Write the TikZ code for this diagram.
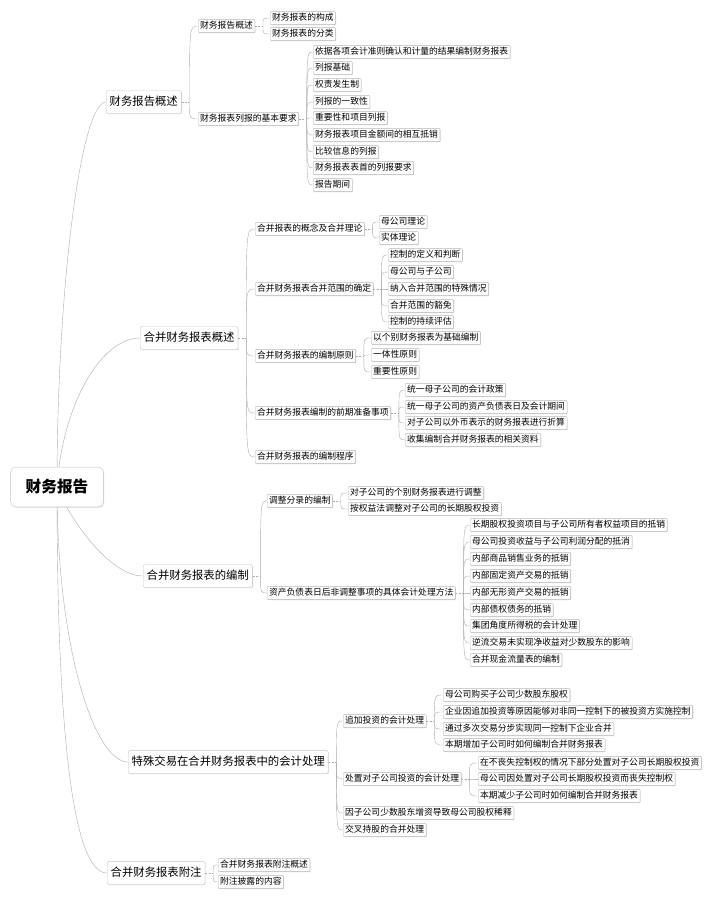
\documentclass[tikz,border=0pt]{standalone}
\usepackage{fontspec}
\setmainfont{Noto Sans CJK SC}
\usetikzlibrary{shadows, backgrounds}

\tikzset{
  rootbox/.style={draw=gray!45, fill=white, rounded corners=5pt, minimum width=93pt, minimum height=40pt,
    font=\fontsize{15.7}{18}\selectfont\bfseries,
    drop shadow={shadow xshift=0.8pt, shadow yshift=-0.8pt, opacity=0.25}},
  topicbox/.style={draw=gray!45, fill=white, rounded corners=2pt, anchor=west, inner xsep=3.5pt,
    text height=9.5pt, text depth=2.3pt, minimum height=23pt, font=\fontsize{11.4}{13}\selectfont,
    drop shadow={shadow xshift=0.7pt, shadow yshift=-0.7pt, opacity=0.25}},
  leafbox/.style={draw=gray!55, fill=white, rounded corners=1pt, anchor=west, inner xsep=2pt, inner ysep=2pt,
    text height=7.5pt, text depth=1.8pt, font=\fontsize{8.8}{10}\selectfont,
    drop shadow={shadow xshift=0.6pt, shadow yshift=-0.6pt, opacity=0.35}},
  link/.style={draw=gray!65, line width=0.4pt},
  stub/.style={draw=gray!65, line width=0.4pt, dash pattern=on 2pt off 1.5pt},
}

% 父节点右侧的虚线短线及到各子节点的弧线
\newcommand{\branchout}[2]{%
  \coordinate (j#1) at ([xshift=8pt]#1.east);
  \draw[stub] (#1.east) -- (j#1);
  \foreach \c in {#2} {\draw[link] (j#1) .. controls (j#1 |- \c.west) .. (\c.west);}
}

\begin{document}
\begin{tikzpicture}[x=1bp, y=-1bp]
\useasboundingbox (0,0) rectangle (710,900);
% 中心主题
\node[rootbox] (root) at (57,487) {财务报告};
% 一级分支
\node[topicbox] (A) at (106,102) {财务报告概述};
\node[topicbox] (B) at (140,338) {合并财务报表概述};
\node[topicbox] (C) at (143,576) {合并财务报表的编制};
\node[topicbox] (D) at (128,762) {特殊交易在合并财务报表中的会计处理};
\node[topicbox] (E) at (107,873) {合并财务报表附注};
% 财务报告概述
\node[leafbox] (A1) at (198,26) {财务报告概述};
\node[leafbox] (A2) at (198,119) {财务报表列报的基本要求};
\node[leafbox] (A1a) at (270,18) {财务报表的构成};
\node[leafbox] (A1b) at (270,34) {财务报表的分类};
\node[leafbox] (A2a) at (313,52) {依据各项会计准则确认和计量的结果编制财务报表};
\node[leafbox] (A2b) at (313,68) {列报基础};
\node[leafbox] (A2c) at (313,85) {权责发生制};
\node[leafbox] (A2d) at (313,102) {列报的一致性};
\node[leafbox] (A2e) at (313,118) {重要性和项目列报};
\node[leafbox] (A2f) at (313,135) {财务报表项目金额间的相互抵销};
\node[leafbox] (A2g) at (313,152) {比较信息的列报};
\node[leafbox] (A2h) at (313,168) {财务报表表首的列报要求};
\node[leafbox] (A2i) at (313,185) {报告期间};
% 合并财务报表概述
\node[leafbox] (B1) at (255,229) {合并报表的概念及合并理论};
\node[leafbox] (B2) at (255,289) {合并财务报表合并范围的确定};
\node[leafbox] (B3) at (255,356) {合并财务报表的编制原则};
\node[leafbox] (B4) at (255,413) {合并财务报表编制的前期准备事项};
\node[leafbox] (B5) at (255,457) {合并财务报表的编制程序};
\node[leafbox] (B1a) at (379,222) {母公司理论};
\node[leafbox] (B1b) at (379,238) {实体理论};
\node[leafbox] (B2a) at (388,255) {控制的定义和判断};
\node[leafbox] (B2b) at (388,272) {母公司与子公司};
\node[leafbox] (B2c) at (388,289) {纳入合并范围的特殊情况};
\node[leafbox] (B2d) at (388,306) {合并范围的豁免};
\node[leafbox] (B2e) at (388,322) {控制的持续评估};
\node[leafbox] (B3a) at (371,338) {以个别财务报表为基础编制};
\node[leafbox] (B3b) at (371,355) {一体性原则};
\node[leafbox] (B3c) at (371,372) {重要性原则};
\node[leafbox] (B4a) at (405,390) {统一母子公司的会计政策};
\node[leafbox] (B4b) at (405,407) {统一母子公司的资产负债表日及会计期间};
\node[leafbox] (B4c) at (405,423) {对子公司以外币表示的财务报表进行折算};
\node[leafbox] (B4d) at (405,440) {收集编制合并财务报表的相关资料};
% 合并财务报表的编制
\node[leafbox] (C1) at (267,501) {调整分录的编制};
\node[leafbox] (C2) at (267,593) {资产负债表日后非调整事项的具体会计处理方法};
\node[leafbox] (C1a) at (348,493) {对子公司的个别财务报表进行调整};
\node[leafbox] (C1b) at (348,509) {按权益法调整对子公司的长期股权投资};
\node[leafbox] (C2a) at (470,525) {长期股权投资项目与子公司所有者权益项目的抵销};
\node[leafbox] (C2b) at (470,542) {母公司投资收益与子公司利润分配的抵消};
\node[leafbox] (C2c) at (470,559) {内部商品销售业务的抵销};
\node[leafbox] (C2d) at (470,576) {内部固定资产交易的抵销};
\node[leafbox] (C2e) at (470,593) {内部无形资产交易的抵销};
\node[leafbox] (C2f) at (470,610) {内部债权债务的抵销};
\node[leafbox] (C2g) at (470,626) {集团角度所得税的会计处理};
\node[leafbox] (C2h) at (470,643) {逆流交易未实现净收益对少数股东的影响};
\node[leafbox] (C2i) at (470,660) {合并现金流量表的编制};
% 特殊交易在合并财务报表中的会计处理
\node[leafbox] (D1) at (343,721) {追加投资的会计处理};
\node[leafbox] (D2) at (343,779) {处置对子公司投资的会计处理};
\node[leafbox] (D3) at (343,813) {因子公司少数股东增资导致母公司股权稀释};
\node[leafbox] (D4) at (343,830) {交叉持股的合并处理};
\node[leafbox] (D1a) at (443,695) {母公司购买子公司少数股东股权};
\node[leafbox] (D1b) at (443,712) {企业因追加投资等原因能够对非同一控制下的被投资方实施控制};
\node[leafbox] (D1c) at (443,729) {通过多次交易分步实现同一控制下企业合并};
\node[leafbox] (D1d) at (443,745) {本期增加子公司时如何编制合并财务报表};
\node[leafbox] (D2a) at (478,763) {在不丧失控制权的情况下部分处置对子公司长期股权投资};
\node[leafbox] (D2b) at (478,779) {母公司因处置对子公司长期股权投资而丧失控制权};
\node[leafbox] (D2c) at (478,796) {本期减少子公司时如何编制合并财务报表};
% 合并财务报表附注
\node[leafbox] (E1) at (218,865) {合并财务报表附注概述};
\node[leafbox] (E2) at (218,882) {附注披露的内容};

% 连线
\begin{scope}[on background layer]
\draw[link] (root.center) .. controls +(0,-200) and +(-25,0) .. (A.west);
\draw[link] (root.center) .. controls +(5,-80) and +(-40,0) .. (B.west);
\draw[link] (root.center) .. controls +(13,33) and +(-33,0) .. (C.west);
\draw[link] (root.center) .. controls +(0,163) and +(-33,0) .. (D.west);
\draw[link] (root.center) .. controls +(0,263) and +(-32,0) .. (E.west);
\branchout{A}{A1,A2}
\branchout{A1}{A1a,A1b}
\branchout{A2}{A2a,A2b,A2c,A2d,A2e,A2f,A2g,A2h,A2i}
\branchout{B}{B1,B2,B3,B4,B5}
\branchout{B1}{B1a,B1b}
\branchout{B2}{B2a,B2b,B2c,B2d,B2e}
\branchout{B3}{B3a,B3b,B3c}
\branchout{B4}{B4a,B4b,B4c,B4d}
\branchout{C}{C1,C2}
\branchout{C1}{C1a,C1b}
\branchout{C2}{C2a,C2b,C2c,C2d,C2e,C2f,C2g,C2h,C2i}
\branchout{D}{D1,D2,D3,D4}
\branchout{D1}{D1a,D1b,D1c,D1d}
\branchout{D2}{D2a,D2b,D2c}
\branchout{E}{E1,E2}
\end{scope}
\end{tikzpicture}
\end{document}
